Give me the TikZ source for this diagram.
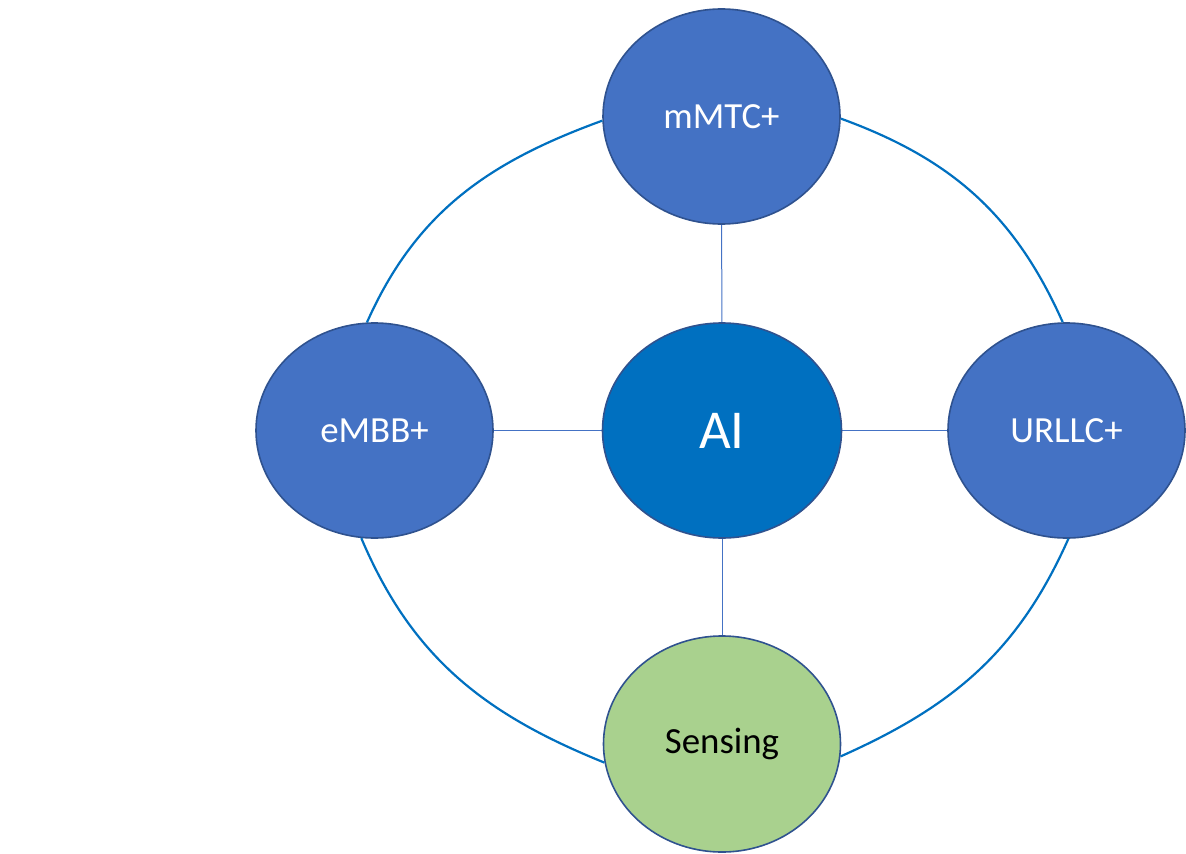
\documentclass[tikz,border=0pt]{standalone}
\usepackage{fontspec}
\setmainfont{Carlito}
\usetikzlibrary{shapes.geometric}
\definecolor{nodeblue}{HTML}{4472C4}
\definecolor{nodeedge}{HTML}{2F528F}
\definecolor{aiblue}{HTML}{0070C0}
\definecolor{sensegreen}{HTML}{A9D18E}
\definecolor{arcblue}{HTML}{0070C0}
\tikzset{
  bubble/.style={ellipse, draw=nodeedge, line width=1.6bp, fill=nodeblue, text=white,
    inner sep=0pt, minimum width=237bp, minimum height=215bp,
    font=\fontsize{37}{44}\selectfont},
  spoke/.style={draw=nodeblue, line width=1bp},
  ring/.style={draw=arcblue, line width=2.2bp}
}
\begin{document}
\begin{tikzpicture}[x=1bp,y=-1bp]
\useasboundingbox (0,0) rectangle (1186,854);
% spokes first (behind nodes)
\coordinate (cM) at (721.5,116.5);
\coordinate (cA) at (722,430.5);
\coordinate (cE) at (374.5,430.5);
\coordinate (cU) at (1066.5,430.5);
\coordinate (cS) at (722,744);
\draw[spoke] (cM) -- (cA);
\draw[spoke] (cE) -- (cA);
\draw[spoke] (cA) -- (cU);
\draw[spoke] (cA) -- (cS);
\node[bubble] (mmtc) at (cM) {mMTC+};
\node[bubble] (embb) at (cE) {eMBB+};
\node[bubble] (urllc) at (cU) {URLLC+};
\node[bubble, fill=aiblue, minimum width=239bp, font=\fontsize{55}{64}\selectfont] (ai) at (cA) {AI};
\node[bubble, fill=sensegreen, text=black, minimum height=216bp] (sensing) at (cS) {Sensing};
% ring arcs
\draw[ring] (mmtc.182) to[out=200,in=66] (embb.94);
\draw[ring] (embb.263) to[out=-67,in=158] (sensing.189);
\draw[ring] (mmtc.-1) to[out=-20,in=114] (urllc.92);
\draw[ring] (urllc.-89) to[out=246,in=24] (sensing.-6);
\end{tikzpicture}
\end{document}
